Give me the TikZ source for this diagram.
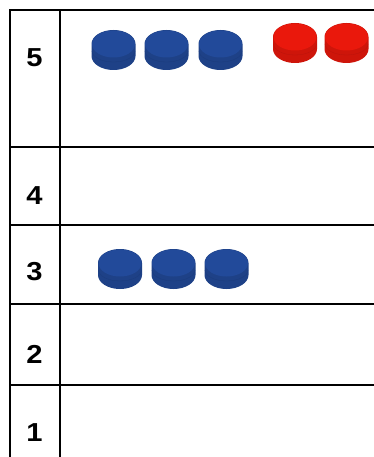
\documentclass[tikz,border=0pt]{standalone}
\usepackage{fontspec}
\setmainfont{Liberation Sans}
\definecolor{chipblue}{RGB}{34,74,154}
\definecolor{chipred}{RGB}{234,24,12}
\tikzset{
  gridline/.style={line width=1.7pt, black},
  rowlabel/.style={font=\bfseries\fontsize{26}{28}\selectfont, inner sep=0pt, xscale=1.12, transform shape},
  pics/counter/.style={code={
    \fill[#1!88!black] (-22,14) -- (-22,26) arc[start angle=180, end angle=0, x radius=22, y radius=14]
       -- (22,14) arc[start angle=0, end angle=-180, x radius=22, y radius=14] -- cycle;
    \fill[#1] (0,14) ellipse[x radius=21.5, y radius=13.5];
    \draw[#1!80!black, line width=0.3pt] (-21.5,21) arc[start angle=180, end angle=0, x radius=21.5, y radius=11];
  }}
}
\begin{document}
\begin{tikzpicture}[x=1pt,y=-1pt]
\useasboundingbox (0,0) rectangle (374,457);
\fill[white] (0,0) rectangle (374,457);
% grid
\draw[gridline] (10,457) -- (10,10) -- (374,10);
\draw[gridline] (60,10) -- (60,457);
\foreach \yy in {147,225,304,385} \draw[gridline] (10,\yy) -- (374,\yy);
% labels
\node[rowlabel] (l5) at (34.5,57.5) {5};
\node[rowlabel] (l4) at (34.5,196) {4};
\node[rowlabel] (l3) at (34.5,272) {3};
\node[rowlabel] (l2) at (34.5,354) {2};
\node[rowlabel] (l1) at (34.5,432.5) {1};
% counters row 5
\pic at (113.5,30) {counter=chipblue};
\pic at (166.5,30) {counter=chipblue};
\pic at (220.5,30) {counter=chipblue};
\pic at (295,23) {counter=chipred};
\pic at (346.5,23) {counter=chipred};
% counters row 3
\pic at (120,249) {counter=chipblue};
\pic at (173.5,249) {counter=chipblue};
\pic at (226.5,249) {counter=chipblue};
\end{tikzpicture}
\end{document}
